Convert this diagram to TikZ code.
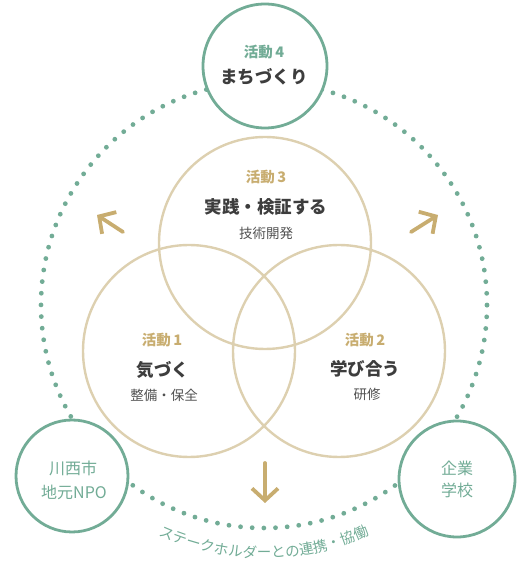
\documentclass[tikz,border=0pt]{standalone}
\usepackage{fontspec}
\setmainfont{Noto Sans CJK JP}
\usetikzlibrary{arrows.meta,decorations.text}
\definecolor{kgreen}{HTML}{72AC96}
\definecolor{kbeige}{HTML}{DDD0B0}
\definecolor{kgold}{HTML}{C8AD70}
\definecolor{kdark}{HTML}{3D3D3D}
\definecolor{kgray}{HTML}{505050}
\tikzset{
  greenring/.style={circle,draw=kgreen,line width=2.8pt,fill=white,inner sep=0pt,minimum size=#1},
  actring/.style={circle,draw=kbeige,line width=2.4pt,inner sep=0pt,minimum size=212pt},
  tag/.style={font=\fontsize{14.5}{14.5}\selectfont\bfseries,text=kgold},
  headline/.style={font=\fontsize{17.5}{17.5}\selectfont\bfseries,text=kdark},
  subline/.style={font=\fontsize{13.5}{13.5}\selectfont,text=kgray},
  partner/.style={font=\fontsize{16}{16}\selectfont,text=kgreen},
  flow/.style={draw=kgold,line width=3.8pt,-{Straight Barb[length=12pt,width=26pt]}}
}
\begin{document}
\begin{tikzpicture}[x=1pt,y=1pt,line cap=round,line join=round]
  \useasboundingbox (0,0) rectangle (530,576);
  \coordinate (hub) at (264,271);
  % stakeholder ring
  \draw[kgreen,line width=4.8pt,dash pattern=on 0pt off 11.676pt] (hub) circle (223);
  \path[decorate,decoration={text along path,text align=center,
      text={|\fontsize{14.5}{14.5}\selectfont\color{kgreen}|ステークホルダーとの連携・協働}}]
    (hub) ++(242:253) arc[start angle=242,end angle=298,radius=253];
  % activity circles
  \node[actring] (act3) at (265,333) {};
  \node[actring] (act1) at (189,225) {};
  \node[actring] (act2) at (339,225) {};
  % partner circles
  \node[greenring=124pt] (act4) at (265,510) {};
  \node[greenring=112pt] (city) at (72,100) {};
  \node[greenring=116pt] (firm) at (457,97) {};
  % texts
  \node[tag,text=kgreen] (tag4) at (264,524) {活動\,4};
  \node[headline] (head4) at (264,499) {まちづくり};
  \node[tag] (tag3) at (266,399) {活動\,3};
  \node[headline] (head3) at (266,369) {実践・検証する};
  \node[subline] (sub3) at (266,343) {技術開発};
  \node[tag] (tag1) at (162,236) {活動\,1};
  \node[headline] (head1) at (163,206) {気づく};
  \node[subline] (sub1) at (164,181) {整備・保全};
  \node[tag] (tag2) at (365,236) {活動\,2};
  \node[headline] (head2) at (365,207) {学び合う};
  \node[subline] (sub2) at (367,182) {研修};
  \node[partner] (city1) at (73,108) {川西市};
  \node[partner] (city2) at (74,84) {地元NPO};
  \node[partner] (firm1) at (457,108) {企業};
  \node[partner] (firm2) at (457,86) {学校};
  % arrows
  \coordinate (ulA) at (123,344);
  \coordinate (ulB) at (97,361);
  \coordinate (urA) at (411,344);
  \coordinate (urB) at (438,361);
  \coordinate (dnA) at (265,113);
  \coordinate (dnB) at (265,73);
  \draw[flow] (ulA) -- (ulB);
  \draw[flow] (urA) -- (urB);
  \draw[flow] (dnA) -- (dnB);
\end{tikzpicture}
\end{document}
